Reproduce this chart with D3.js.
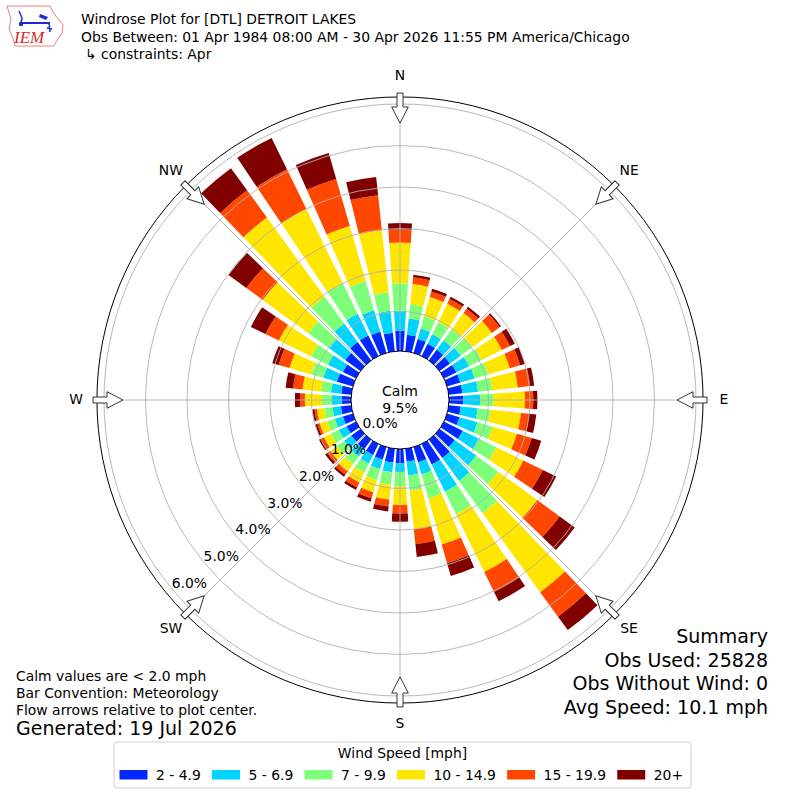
<!DOCTYPE html>
<html>
<head>
<meta charset="utf-8">
<script src="https://d3js.org/d3.v7.min.js"></script>
<style>
  body { margin: 0; background: #fff; }
  text { font-family: "DejaVu Sans", sans-serif; fill: #000; }
</style>
</head>
<body>
<div id="chart"></div>
<script>
// wind directions (deg, where the wind comes from)
const directions = d3.range(0, 360, 10);
const speedBins = ["2 - 4.9", "5 - 6.9", "7 - 9.9", "10 - 14.9", "15 - 19.9", "20+"];
const binColors = ["#0028ff", "#00d4ff", "#7dff7a", "#ffe600", "#ff4700", "#800000"];

// frequency [%] per direction for each speed bin
const spd2 = [.54,.45,.40,.38,.37,.36,.38,.38,.38,.39,.34,.36,.55,.50,.60,.60,.43,.36,
              .39,.38,.36,.34,.33,.32,.30,.30,.30,.27,.29,.45,.40,.50,.60,.60,.58,.50];
const spd5 = [.48,.39,.26,.25,.28,.32,.34,.36,.38,.41,.41,.45,.43,.64,.68,.73,.30,.34,
              .21,.24,.24,.23,.22,.21,.21,.20,.20,.24,.25,.34,.40,.48,.55,.58,.54,.53];
const spd7 = [.66,.35,.30,.33,.33,.34,.34,.34,.34,.32,.31,.38,.47,.66,.96,.60,.61,.37,
              .36,.30,.28,.25,.23,.22,.21,.19,.20,.24,.24,.30,.45,.62,.80,.82,.73,.45];
const spd10 = [.98,.49,.49,.49,.48,.59,.54,.54,.62,.76,.74,.61,.73,1.16,2.36,1.55,1.15,.93,
               .44,.36,.30,.26,.22,.20,.19,.19,.18,.41,.45,.55,.87,1.36,2.36,2.00,1.38,1.51];
const spd15 = [.32,.16,.14,.13,.13,.23,.22,.26,.30,.20,.20,.37,.52,.67,.73,.54,.47,.36,
               .20,.17,.15,.13,.10,.09,.08,.06,.06,.11,.23,.27,.36,.49,.81,1.06,1.18,.84];
const spd20 = [.15,.06,.07,.06,.06,.04,.13,.12,.10,.10,.17,.24,.36,.45,.40,.25,.32,.31,
               .20,.12,.09,.07,.06,.06,.05,.05,.05,.13,.18,.16,.39,.53,.66,.84,.65,.44];
const series = [spd2, spd5, spd7, spd10, spd15, spd20];

const rTicks = [0, 1, 2, 3, 4, 5, 6];
const rTickLabels = ["0.0%", "1.0%", "2.0%", "3.0%", "4.0%", "5.0%", "6.0%"];
const compassLabels = ["N", "NE", "E", "SE", "S", "SW", "W", "NW"];

const calmText = "9.5%";
const titleLines = ["Windrose Plot for [DTL] DETROIT LAKES",
                    "Obs Between: 01 Apr 1984 08:00 AM - 30 Apr 2026 11:55 PM America/Chicago"];
const constraintLine = "\u21b3 constraints: Apr";
const notes = ["Calm values are < 2.0 mph", "Bar Convention: Meteorology",
               "Flow arrows relative to plot center."];
const generated = "Generated: 19 Jul 2026";
const summary = ["Summary", "Obs Used: 25828", "Obs Without Wind: 0", "Avg Speed: 10.1 mph"];

// ---------------------------------------------------------------
const W = 800, H = 800, cx = 400, cy = 400;
const rad = d => d * Math.PI / 180;
const r = d3.scaleLinear().domain([0, 6]).range([47, 296]);
const rMax = r(6.17);
const calmR = 49;
const halfW = 3.9;

const svg = d3.select("#chart").append("svg")
    .attr("width", W).attr("height", H);

// stack the speed bins
const rows = directions.map((d, i) => {
    const o = {dir: d};
    series.forEach((s, j) => { o[j] = s[i]; });
    return o;
});
const stacked = d3.stack().keys(d3.range(series.length))(rows);

const g = svg.append("g").attr("transform", `translate(${cx},${cy})`);

const arc = d3.arc()
    .innerRadius(d => r(d[0]))
    .outerRadius(d => r(d[1]))
    .startAngle(d => rad(d.data.dir - halfW))
    .endAngle(d => rad(d.data.dir + halfW));

g.append("g").selectAll("g")
    .data(stacked)
    .join("g")
    .attr("fill", (d, i) => binColors[i])
    .selectAll("path")
    .data(d => d)
    .join("path")
    .attr("d", arc);

// grid
g.append("g").selectAll("circle")
    .data(rTicks.slice(1))
    .join("circle")
    .attr("r", d => r(d))
    .attr("fill", "none")
    .attr("stroke", "#b0b0b0")
    .attr("stroke-width", 0.9);

g.append("g").selectAll("line")
    .data(d3.range(0, 360, 45))
    .join("line")
    .attr("x1", 0).attr("y1", 0)
    .attr("x2", d => rMax * Math.sin(rad(d)))
    .attr("y2", d => -rMax * Math.cos(rad(d)))
    .attr("stroke", "#b0b0b0")
    .attr("stroke-width", 0.9);

g.append("circle").attr("r", rMax)
    .attr("fill", "none").attr("stroke", "#000").attr("stroke-width", 1);

// calm circle
g.append("circle").attr("r", calmR)
    .attr("fill", "#fff").attr("stroke", "#000").attr("stroke-width", 1);
g.append("text").attr("x", 0).attr("y", -9)
    .attr("text-anchor", "middle").attr("dominant-baseline", "central")
    .style("font-size", "14px").text("Calm");
g.append("text").attr("x", 0).attr("y", 8)
    .attr("text-anchor", "middle").attr("dominant-baseline", "central")
    .style("font-size", "14px").text(calmText);

// radial tick labels along 230 deg
const lblAng = rad(230);
g.append("g").selectAll("text")
    .data(rTicks)
    .join("text")
    .attr("x", d => (r(d) - 16.5) * Math.sin(lblAng) + 3.5)
    .attr("y", d => -(r(d) - 16.5) * Math.cos(lblAng) + 3)
    .attr("text-anchor", "middle")
    .attr("dominant-baseline", "central")
    .style("font-size", "13.9px")
    .text((d, i) => rTickLabels[i]);

// flow arrows
const arrowPts = [[-3, -307], [3, -307], [3, -293], [8.3, -293], [0, -277],
                  [-8.3, -293], [-3, -293]];
g.append("g").selectAll("path")
    .data(d3.range(0, 360, 45))
    .join("path")
    .attr("transform", d => `rotate(${d})`)
    .attr("d", "M" + arrowPts.map(p => p.join(",")).join("L") + "Z")
    .attr("fill", "#fff")
    .attr("stroke", "#333")
    .attr("stroke-width", 1);

// compass labels
g.append("g").selectAll("text")
    .data(compassLabels)
    .join("text")
    .attr("x", (d, i) => 324 * Math.sin(rad(i * 45)))
    .attr("y", (d, i) => -324 * Math.cos(rad(i * 45)) - 1)
    .attr("text-anchor", "middle")
    .attr("dominant-baseline", "central")
    .style("font-size", "13.9px")
    .text(d => d);

// header + logo
const logo = svg.append("g");
logo.append("path")
    .attr("d", "M7,6 L50,6 L53,12 L58,19 L63,25 L62,33 L57,40 L54,46 L15,46 L13,38 L9,29 L11,19 Z")
    .attr("fill", "none").attr("stroke", "#e88080").attr("stroke-width", 1);
logo.append("line").attr("x1", 21).attr("y1", 23).attr("x2", 50).attr("y2", 23)
    .attr("stroke", "#1a2bd0").attr("stroke-width", 2);
logo.append("path").attr("d", "M40,14 L48,17 L46,20 L39,17 Z").attr("fill", "#1a2bd0");
logo.append("path").attr("d", "M19,11 L22,18 L21,23").attr("fill", "none")
    .attr("stroke", "#1a2bd0").attr("stroke-width", 1.5);
logo.append("circle").attr("cx", 21).attr("cy", 24).attr("r", 2.2).attr("fill", "#1a2bd0");
logo.append("path").attr("d", "M49,23 L50,32 M47,28 L52,29").attr("fill", "none")
    .attr("stroke", "#1a2bd0").attr("stroke-width", 1.5);
logo.append("text").attr("x", 14).attr("y", 43)
    .style("font-family", "'Liberation Serif', serif").style("font-style", "italic")
    .style("font-size", "17px").style("fill", "#d42a2a").text("IEM");

svg.append("g").selectAll("text")
    .data(titleLines)
    .join("text")
    .attr("x", 81).attr("y", (d, i) => 24 + i * 18)
    .style("font-size", "13.9px")
    .text(d => d);
svg.append("text").attr("x", 85).attr("y", 59)
    .style("font-size", "13.9px").text(constraintLine);

// notes at bottom left
svg.append("g").selectAll("text")
    .data(notes)
    .join("text")
    .attr("x", 16).attr("y", (d, i) => 681 + i * 17)
    .style("font-size", "13.9px")
    .text(d => d);
svg.append("text").attr("x", 16).attr("y", 735)
    .style("font-size", "19px").text(generated);

// summary at right
svg.append("g").selectAll("text")
    .data(summary)
    .join("text")
    .attr("x", 768).attr("y", (d, i) => 643 + i * 23.5)
    .attr("text-anchor", "end")
    .style("font-size", "19px")
    .text(d => d);

// legend
const leg = svg.append("g");
leg.append("rect").attr("x", 114).attr("y", 742).attr("width", 577).attr("height", 46)
    .attr("rx", 3).attr("fill", "#fff").attr("stroke", "#d0d0d0");
leg.append("text").attr("x", 402.5).attr("y", 758)
    .attr("text-anchor", "middle").style("font-size", "13.9px").text("Wind Speed [mph]");
let lx = 119.5;
speedBins.forEach((lab, i) => {
    leg.append("rect").attr("x", lx).attr("y", 770).attr("width", 28).attr("height", 9.5)
        .attr("fill", binColors[i]);
    const t = leg.append("text").attr("x", lx + 36.5).attr("y", 779.5)
        .style("font-size", "13.9px").text(lab);
    lx += 36.5 + t.node().getComputedTextLength() + 11.2;
});
</script>
</body>
</html>
